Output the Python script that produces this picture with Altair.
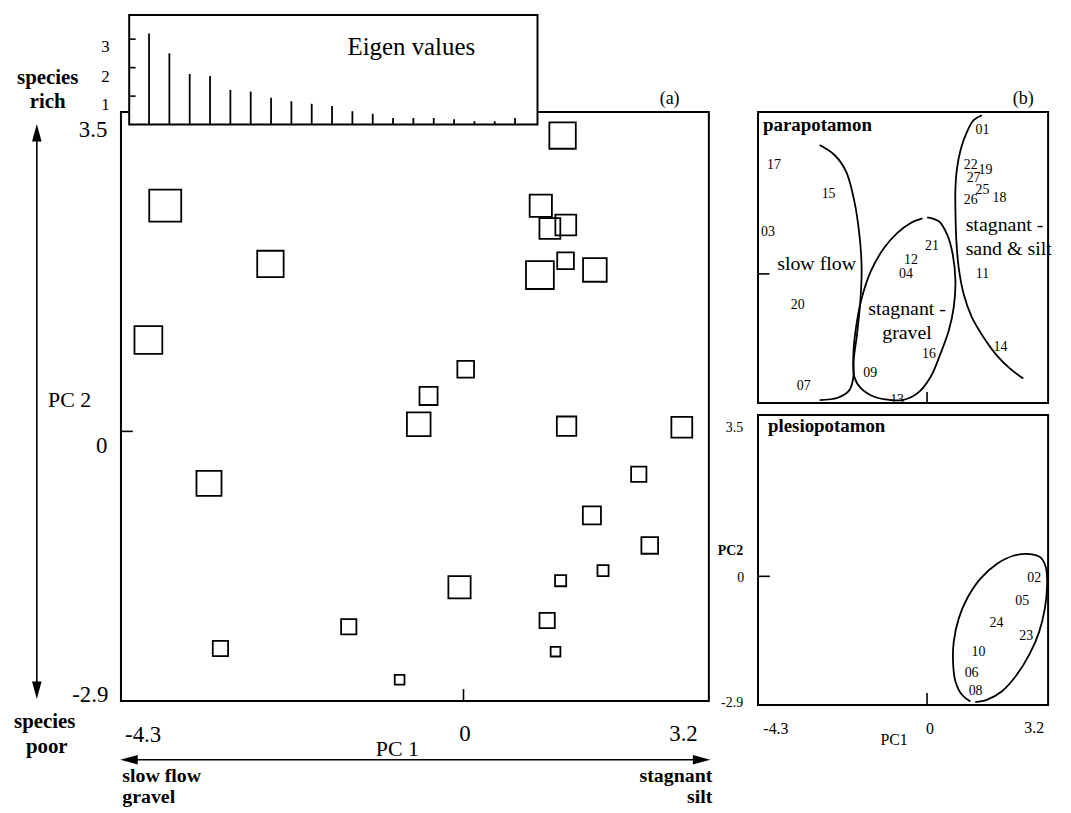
import altair as alt
import pandas as pd

OFF = 8  # page margin around the svg
SERIF = "Liberation Serif"

# ---------------- data ----------------
sites = ["01", "17", "22", "19", "27", "15", "25", "18", "26", "03", "21", "12", "04", "11",
         "02", "20", "05", "24", "23", "14", "10", "16", "06", "09", "07", "08", "13"]
pc1 = [1.264, -3.805, 0.986, 1.305, 1.102, -2.463, 1.302, 1.676, 0.975, -4.020, 0.028, -0.446, -0.571, 1.315,
       2.785, -3.247, 2.236, 1.638, 2.376, 1.780, 1.239, -0.051, 1.067, -1.464, -3.101, 1.174, -0.815]
pc2 = [3.214, 2.452, 2.452, 2.242, 2.204, 1.819, 1.853, 1.754, 1.698, 0.993, 0.675, 0.385, 0.078, 0.056,
       0.045, -0.564, -0.466, -0.912, -1.239, -1.513, -1.622, -1.694, -2.054, -2.123, -2.358, -2.393, -2.698]
richness = [19, 23, 16, 15, 15, 19, 12, 17, 20, 20, 12, 13, 17, 14,
            15, 18, 11, 13, 12, 8, 8, 16, 11, 11, 11, 7, 7]
plesio_sites = ["02", "05", "24", "23", "10", "06", "08"]
groups = ["plesiopotamon" if s in plesio_sites else "parapotamon" for s in sites]
# label positions of the site numbers in panel (b)
lab_pc1 = [1.435, -3.959, 1.127, 1.512, 1.204, -2.546, 1.435, 1.871, 1.127, -4.113, 0.125, -0.415, -0.543, 1.435,
           2.770, -3.343, 2.462, 1.794, 2.565, 1.897, 1.332, 0.048, 1.152, -1.468, -3.189, 1.255, -0.774]
lab_pc2 = [3.167, 2.402, 2.402, 2.293, 2.118, 1.747, 1.834, 1.660, 1.616, 0.917, 0.611, 0.305, 0.0, 0.0,
           -0.035, -0.678, -0.539, -1.021, -1.328, -1.617, -1.678, -1.770, -2.139, -2.185, -2.469, -2.533, -2.774]

eig_rank = list(range(1, 20))
eig_val = [3.20, 2.50, 1.78, 1.71, 1.22, 1.16, 0.94, 0.82, 0.73, 0.65, 0.47, 0.38,
           0.23, 0.23, 0.23, 0.19, 0.12, 0.12, 0.23]
eig_ticks = [1, 2, 3]

# group outlines in panel (b)
slow_x = [-2.778, -2.392, -2.092, -1.879, -1.750, -1.691, -1.724, -1.809, -1.897, -1.904, -2.007, -2.308, -2.778]
slow_y = [2.833, 2.614, 2.249, 1.594, 0.867, 0.137, -0.590, -1.318, -1.901, -2.266, -2.556, -2.724, -2.774]
gravel_x = [0.004, 0.305, 0.518, 0.664, 0.734, 0.690, 0.562, 0.348, 0.091, -0.253, -0.638, -0.936, -1.365,
            -1.706, -1.879, -1.904, -1.835, -1.706, -1.450, -1.108, -0.766, -0.422, -0.12]
gravel_y = [1.245, 1.157, 0.867, 0.430, -0.153, -0.737, -1.245, -1.754, -2.266, -2.628, -2.774, -2.774, -2.702,
            -2.519, -2.266, -1.754, -1.173, -0.590, 0.065, 0.574, 0.902, 1.120, 1.22]
silt_x = [1.417, 1.204, 1.032, 0.877, 0.775, 0.734, 0.734, 0.759, 0.818, 0.947, 1.160, 1.461, 1.802, 2.146, 2.488]
silt_y = [3.488, 3.379, 3.123, 2.758, 2.322, 1.885, 1.376, 0.720, 0.137, -0.444, -0.955, -1.392, -1.792, -2.082, -2.301]
plesio_x = [1.119, 0.903, 0.734, 0.672, 0.690, 0.818, 1.032, 1.376, 1.802, 2.231, 2.660, 2.932, 3.071, 3.104,
            3.045, 2.899, 2.660, 2.316, 1.930, 1.545, 1.247]
plesio_y = [-2.759, -2.614, -2.321, -1.882, -1.444, -0.933, -0.495, -0.056, 0.272, 0.454, 0.491, 0.419, 0.200,
            -0.203, -0.714, -1.225, -1.700, -2.176, -2.540, -2.724, -2.774]

sites_df = pd.DataFrame({"site": sites, "pc1": pc1, "pc2": pc2, "rich": richness, "group": groups,
                         "lx": lab_pc1, "ly": lab_pc2})
eig_df = pd.DataFrame({"rank": eig_rank, "ev": eig_val})


def curve_df(xs, ys):
    return pd.DataFrame({"x": xs, "y": ys, "o": list(range(len(xs)))})


one = pd.DataFrame({"a": [0]})

# ---------------- scales (pixel ranges inside the svg) ----------------
def S(dom, rng):
    return alt.Scale(domain=dom, range=[rng[0] - OFF, rng[1] - OFF], nice=False, zero=False)

main_x = S([-4.37, 3.13], [121.7, 713.5])
main_y = S([-2.93, 3.47], [703, 110])
eig_x = S([0, 20], [129.5, 538.9])
eig_y = S([0, 3.85], [122.7, 12.3])
b_x = S([-4.37, 3.13], [763, 1055])
bt_y = S([-2.84, 3.56], [403, 110])
bb_y = S([-2.84, 3.56], [707, 415])
size_scale = alt.Scale(type="pow", exponent=2, domain=[0, 23], range=[0, (23 * 1.4) ** 2])


def V(v):
    return alt.value(v - OFF)


def txt(s, x, y, size, weight="normal", align="center", baseline="middle"):
    return alt.Chart(pd.DataFrame({"t": [s]})).mark_text(
        font=SERIF, fontSize=size, fontWeight=weight, align=align, baseline=baseline, color="black"
    ).encode(text="t:N", x=V(x), y=V(y))


def seg(x1, y1, x2, y2, w=1.6):
    return alt.Chart(one).mark_rule(color="black", strokeWidth=w).encode(x=V(x1), y=V(y1), x2=V(x2), y2=V(y2))


def box(x1, y1, x2, y2, fill="transparent", w=2):
    return alt.Chart(one).mark_rect(fill=fill, stroke="black", strokeWidth=w).encode(
        x=V(x1), x2=V(x2), y=V(y1), y2=V(y2))


HEADS = {
    "up": "M0,0L0.6,2.2L-0.6,2.2Z",
    "down": "M0,0L0.6,-2.2L-0.6,-2.2Z",
    "left": "M0,0L2.2,-0.6L2.2,0.6Z",
    "right": "M0,0L-2.2,-0.6L-2.2,0.6Z",
}


def head(x, y, d):
    return alt.Chart(one).mark_point(shape=HEADS[d], filled=True, size=256, color="black",
                                     opacity=1, strokeWidth=0).encode(x=V(x), y=V(y))


def xtick(scale, ybot, length=12):
    return alt.Chart(pd.DataFrame({"t": [0]})).mark_rule(color="black", strokeWidth=1.6).encode(
        x=alt.X("t:Q", scale=scale, axis=None), y=V(ybot), y2=V(ybot - length))


def ytick(scale, xleft, length=12, vals=(0,)):
    return alt.Chart(pd.DataFrame({"t": list(vals)})).mark_rule(color="black", strokeWidth=1.6).encode(
        y=alt.Y("t:Q", scale=scale, axis=None), x=V(xleft), x2=V(xleft + length))


def outline(xs, ys, yscale):
    return alt.Chart(curve_df(xs, ys)).mark_line(
        color="black", strokeWidth=1.8, interpolate="catmull-rom"
    ).encode(x=alt.X("x:Q", scale=b_x, axis=None), y=alt.Y("y:Q", scale=yscale, axis=None), order="o:Q")


layers = []

# ---------------- panel (a) ----------------
layers.append(box(121.7, 110, 713.5, 703))
layers.append(
    alt.Chart(sites_df).mark_square(filled=False, color="black", strokeWidth=1.8, opacity=1).encode(
        x=alt.X("pc1:Q", scale=main_x, axis=None),
        y=alt.Y("pc2:Q", scale=main_y, axis=None),
        size=alt.Size("rich:Q", scale=size_scale, legend=None),
    )
)
layers.append(xtick(main_x, 703))
layers.append(ytick(main_y, 121.7))

# eigenvalue inset
layers.append(box(130, 12.3, 541, 122.7, fill="white"))
layers.append(
    alt.Chart(eig_df).mark_rule(color="black", strokeWidth=1.8).encode(
        x=alt.X("rank:Q", scale=eig_x, axis=None),
        y=alt.Y("ev:Q", scale=eig_y, axis=None),
        y2=alt.datum(0),
    )
)
layers.append(ytick(eig_y, 130, length=6.5, vals=eig_ticks))
layers.append(txt("Eigen values", 414, 45, 25))
layers.append(txt("3", 106, 45, 17))
layers.append(txt("2", 106, 75, 17))
layers.append(txt("1", 106, 103, 17))

# axis texts panel (a)
layers.append(txt("(a)", 674, 97, 18))
layers.append(txt("3.5", 108, 128, 23, align="right"))
layers.append(txt("0", 108, 446, 23, align="right"))
layers.append(txt("-2.9", 109, 697, 23, align="right"))
layers.append(txt("PC 2", 70, 400, 22))
layers.append(txt("-4.3", 144, 737, 23))
layers.append(txt("0", 468, 736, 23))
layers.append(txt("3.2", 688, 736, 23))
layers.append(txt("PC 1", 400, 751, 22))

# gradient arrows
layers.append(seg(37, 133, 37, 691, 1.6))
layers.append(head(37, 122, "up"))
layers.append(head(37, 701, "down"))
layers.append(seg(131, 762, 705, 762, 1.6))
layers.append(head(121, 762, "left"))
layers.append(head(715, 762, "right"))
layers.append(txt("species", 48, 76, 21, weight="bold"))
layers.append(txt("rich", 48, 100, 21, weight="bold"))
layers.append(txt("species", 45, 724, 21, weight="bold"))
layers.append(txt("poor", 47, 749, 21, weight="bold"))
layers.append(txt("slow flow", 123, 778, 20, weight="bold", align="left"))
layers.append(txt("gravel", 123, 800, 20, weight="bold", align="left"))
layers.append(txt("stagnant", 717, 778, 20, weight="bold", align="right"))
layers.append(txt("silt", 717, 800, 20, weight="bold", align="right"))

# ---------------- panel (b) top: parapotamon ----------------
layers.append(box(763, 110, 1055, 403))
layers.append(xtick(b_x, 403, 11))
layers.append(ytick(bt_y, 763, 11.5))
layers.append(outline(slow_x, slow_y, bt_y))
layers.append(outline(gravel_x, gravel_y, bt_y))
layers.append(outline(silt_x, silt_y, bt_y))
layers.append(
    alt.Chart(sites_df).transform_filter(alt.datum.group == "parapotamon").mark_text(
        font=SERIF, fontSize=14, color="black", baseline="middle"
    ).encode(x=alt.X("lx:Q", scale=b_x, axis=None), y=alt.Y("ly:Q", scale=bt_y, axis=None), text="site:N")
)
layers.append(txt("parapotamon", 768, 129, 19, weight="bold", align="left", baseline="alphabetic"))
layers.append(txt("(b)", 1030, 97, 18))
layers.append(txt("slow flow", 822, 263, 20))
layers.append(txt("stagnant -", 913, 308, 20))
layers.append(txt("gravel", 913, 333, 20))
layers.append(txt("stagnant -", 972, 224, 20, align="left"))
layers.append(txt("sand & silt", 972, 248, 20, align="left"))

# ---------------- panel (b) bottom: plesiopotamon ----------------
layers.append(box(763, 415, 1055, 707))
layers.append(xtick(b_x, 707, 12))
layers.append(ytick(bb_y, 763, 12))
layers.append(outline(plesio_x, plesio_y, bb_y))
layers.append(
    alt.Chart(sites_df).transform_filter(alt.datum.group == "plesiopotamon").mark_text(
        font=SERIF, fontSize=14, color="black", baseline="middle"
    ).encode(x=alt.X("lx:Q", scale=b_x, axis=None), y=alt.Y("ly:Q", scale=bb_y, axis=None), text="site:N")
)
layers.append(txt("plesiopotamon", 773, 432, 19, weight="bold", align="left", baseline="alphabetic"))
layers.append(txt("3.5", 748, 428, 14, align="right"))
layers.append(txt("PC2", 748, 552, 14, weight="bold", align="right"))
layers.append(txt("0", 749, 579, 14, align="right"))
layers.append(txt("-2.9", 748, 705, 14, align="right"))
layers.append(txt("-4.3", 781, 731, 16))
layers.append(txt("0", 936, 731, 16))
layers.append(txt("3.2", 1041, 730, 16))
layers.append(txt("PC1", 900, 742, 16))

chart = (
    alt.layer(*layers)
    .resolve_scale(x="independent", y="independent", size="independent")
    .properties(width=1062, height=805, autosize=alt.AutoSizeParams(type="none"), padding=0,
                background="white")
    .configure_view(stroke=None)
)

chart.save("out.html", embed_options={"renderer": "svg", "actions": False})
